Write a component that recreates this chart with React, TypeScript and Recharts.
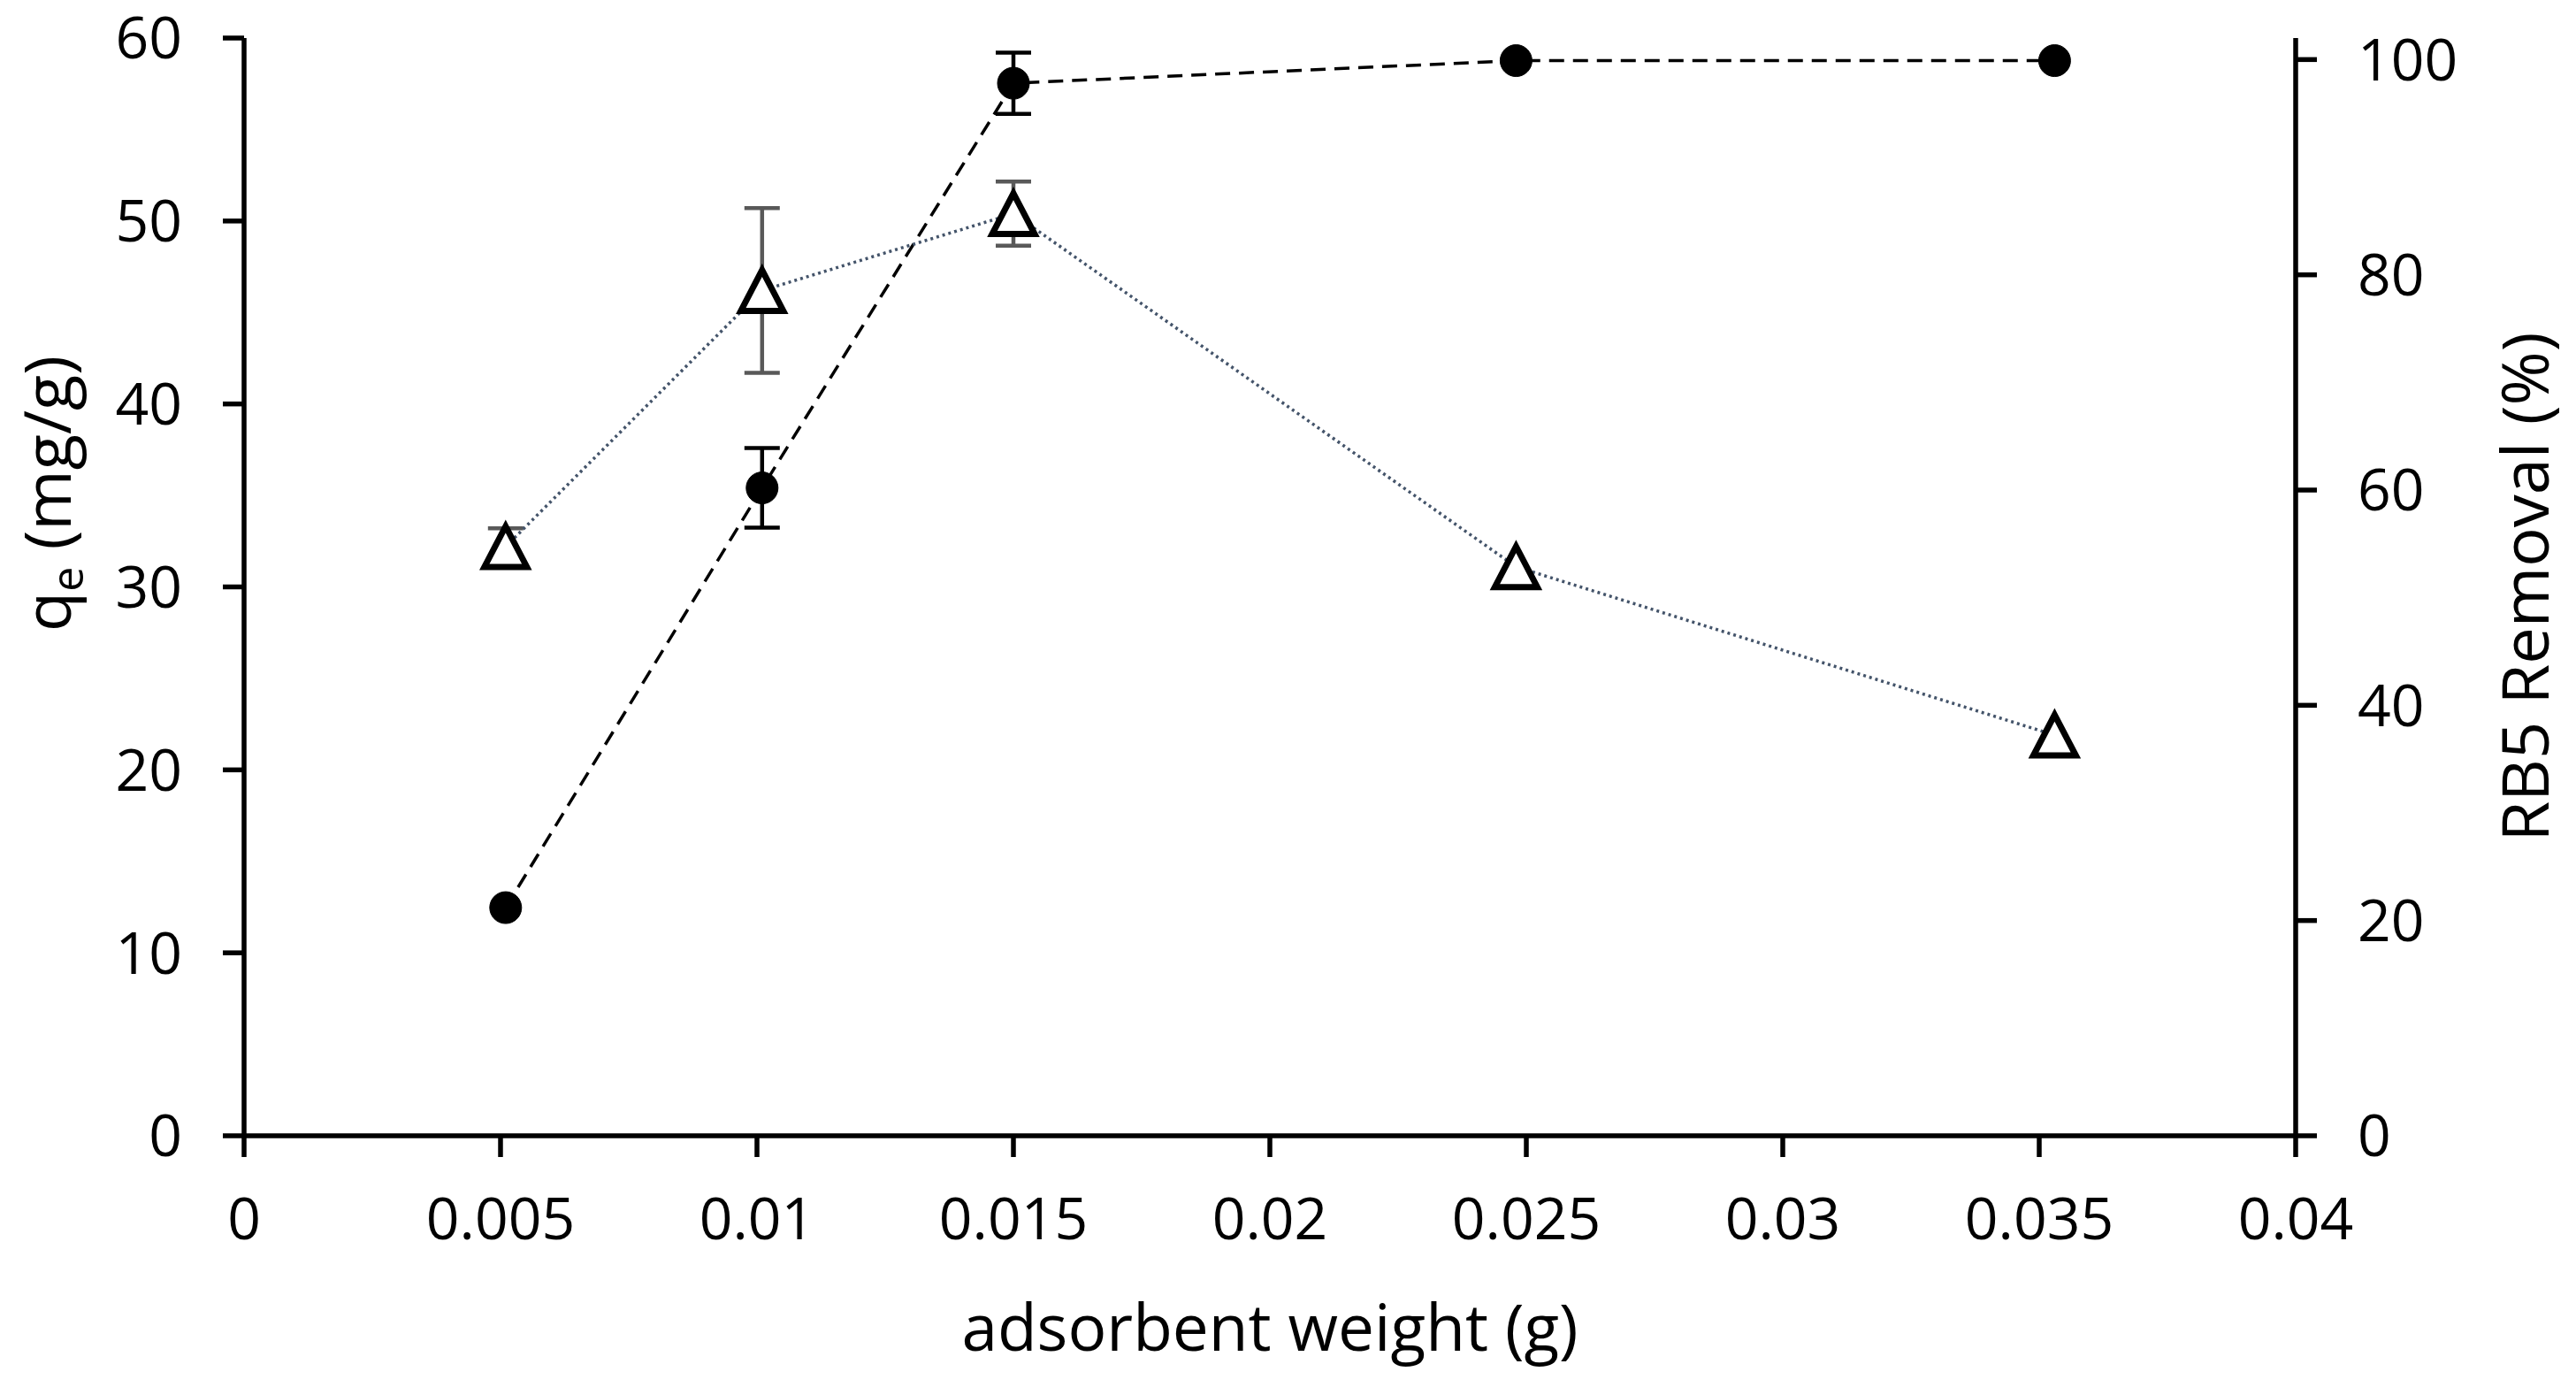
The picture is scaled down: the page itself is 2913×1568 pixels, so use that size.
import { ComposedChart, Line, XAxis, YAxis, ErrorBar } from 'recharts'

const weights = [0.0051, 0.0101, 0.015, 0.0248, 0.0353]
const qe = [32.2, 46.2, 50.4, 31.1, 21.9]
const qeErr = [1.0, 4.5, 1.75, null, null]
const removal = [21.2, 60.2, 97.8, 99.9, 99.9]
const removalErr = [null, 3.7, 2.85, null, null]

const xTicks = [0, 0.005, 0.01, 0.015, 0.02, 0.025, 0.03, 0.035, 0.04]
const qeTicks = [0, 10, 20, 30, 40, 50, 60]
const removalTicks = [0, 20, 40, 60, 80, 100]

const data = weights.map((w, i) => ({
  w,
  qe: qe[i],
  qeErr: qeErr[i],
  removal: removal[i],
  removalErr: removalErr[i],
}))

const FONT = '"Open Sans", "Liberation Sans", sans-serif'
const tickStyle = { fill: '#000', fontSize: 66, fontFamily: FONT }
const axisStroke = { stroke: '#000', strokeWidth: 5.5 }

function Triangle(props: any) {
  const { cx, cy, index } = props
  if (cx == null || cy == null) return null
  const hw = 24
  const hh = 23
  return (
    <path
      key={`tri-${index}`}
      d={`M${cx},${cy - hh} L${cx + hw},${cy + hh} L${cx - hw},${cy + hh} Z`}
      fill="#fff"
      stroke="#000"
      strokeWidth={7}
      strokeLinejoin="miter"
    />
  )
}

function Dot(props: any) {
  const { cx, cy, index } = props
  if (cx == null || cy == null) return null
  return <circle key={`dot-${index}`} cx={cx} cy={cy} r={18} fill="#000" stroke="#000" strokeWidth={1} />
}

function QeLabel(props: any) {
  const { viewBox } = props
  const x = viewBox.x - 36
  const y = viewBox.y + viewBox.height * 0.415
  return (
    <text
      x={x}
      y={y}
      transform={`rotate(-90, ${x}, ${y})`}
      textAnchor="middle"
      fontFamily={FONT}
      fontSize={74}
      fill="#000"
    >
      <tspan>q</tspan>
      <tspan fontSize={50} dy={14}>e</tspan>
      <tspan dy={-14}> (mg/g)</tspan>
    </text>
  )
}

function RemovalLabel(props: any) {
  const { viewBox } = props
  const x = viewBox.x + viewBox.width + 126
  const y = viewBox.y + viewBox.height / 2
  return (
    <text
      x={x}
      y={y}
      transform={`rotate(-90, ${x}, ${y})`}
      textAnchor="middle"
      fontFamily={FONT}
      fontSize={74}
      fill="#000"
    >
      RB5 Removal (%)
    </text>
  )
}

function WeightLabel(props: any) {
  const { viewBox } = props
  const x = viewBox.x + viewBox.width / 2
  const y = viewBox.y + 243
  return (
    <text x={x} y={y} textAnchor="middle" fontFamily={FONT} fontSize={73} fill="#000">
      adsorbent weight (g)
    </text>
  )
}

export default function App() {
  return (
    <div style={{ position: 'absolute', left: 0, top: 0, background: '#fff' }}>
      <ComposedChart
        width={2913}
        height={1568}
        data={data}
        margin={{ top: 43, right: 157, bottom: 84, left: 116 }}
      >
        <XAxis
          dataKey="w"
          type="number"
          domain={[0, 0.04]}
          ticks={xTicks}
          tickFormatter={(v) => String(v)}
          height={200}
          tick={tickStyle}
          tickSize={24}
          tickMargin={46}
          axisLine={axisStroke}
          tickLine={axisStroke}
          label={<WeightLabel />}
          allowDataOverflow
        />
        <YAxis
          yAxisId="qe"
          orientation="left"
          domain={[0, 60]}
          ticks={qeTicks}
          width={160}
          tick={tickStyle}
          tickSize={24}
          tickMargin={46}
          axisLine={axisStroke}
          tickLine={axisStroke}
          label={<QeLabel />}
        />
        <YAxis
          yAxisId="removal"
          orientation="right"
          domain={[0, 102]}
          ticks={removalTicks}
          width={160}
          tick={tickStyle}
          tickSize={24}
          tickMargin={46}
          axisLine={axisStroke}
          tickLine={axisStroke}
          label={<RemovalLabel />}
          allowDataOverflow
        />
        <Line
          yAxisId="removal"
          dataKey="removal"
          stroke="#000"
          strokeWidth={3.5}
          strokeDasharray="17 10"
          dot={<Dot />}
          activeDot={false}
          isAnimationActive={false}
        >
          <ErrorBar dataKey="removalErr" direction="y" width={20} stroke="#000" strokeWidth={4.5} isAnimationActive={false} />
        </Line>
        <Line
          yAxisId="qe"
          dataKey="qe"
          stroke="#44546A"
          strokeWidth={3.5}
          strokeDasharray="3 4"
          dot={<Triangle />}
          activeDot={false}
          isAnimationActive={false}
        >
          <ErrorBar dataKey="qeErr" direction="y" width={20} stroke="#595959" strokeWidth={4.5} isAnimationActive={false} />
        </Line>
      </ComposedChart>
    </div>
  )
}
